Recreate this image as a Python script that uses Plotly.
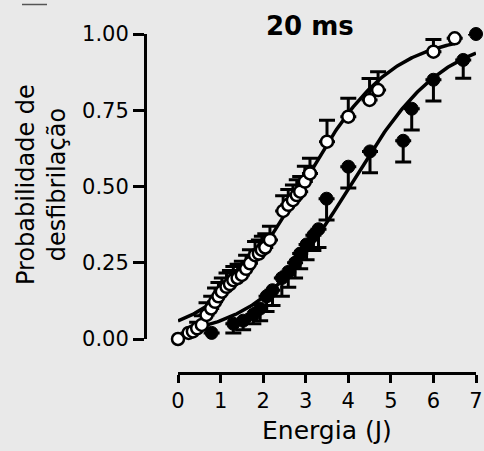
import numpy as np
import plotly.graph_objects as go

# ---- data ----
open_x = [0.00, 0.25, 0.35, 0.45, 0.56, 0.67, 0.78, 0.87, 0.95, 1.03, 1.14, 1.22, 1.30, 1.40, 1.50,
          1.60, 1.69, 1.81, 1.90, 1.97, 2.05, 2.16, 2.47, 2.59, 2.70, 2.79, 2.87, 2.98, 3.10, 3.50,
          4.00, 4.50, 4.70, 6.00, 6.50]
open_y = [0.000, 0.020, 0.025, 0.035, 0.046, 0.079, 0.100, 0.122, 0.140, 0.155, 0.171, 0.180, 0.193,
          0.200, 0.210, 0.230, 0.248, 0.275, 0.280, 0.292, 0.300, 0.325, 0.420, 0.440, 0.455, 0.472,
          0.483, 0.516, 0.543, 0.647, 0.729, 0.784, 0.816, 0.942, 0.986]
open_err = [0.0, 0.0, 0.0, 0.02, 0.03, 0.04, 0.04, 0.045, 0.045, 0.045, 0.045, 0.045, 0.045, 0.045,
            0.045, 0.045, 0.045, 0.045, 0.045, 0.045, 0.045, 0.045, 0.05, 0.05, 0.05, 0.05, 0.05,
            0.05, 0.05, 0.07, 0.06, 0.07, 0.06, 0.04, 0.0]

filled_x = [0.79, 1.30, 1.53, 1.77, 1.93, 2.08, 2.22, 2.44, 2.59, 2.75, 2.87, 3.02, 3.18, 3.30, 3.49,
            4.00, 4.51, 5.29, 5.49, 6.00, 6.70, 7.00]
filled_y = [0.020, 0.050, 0.060, 0.080, 0.100, 0.140, 0.160, 0.200, 0.220, 0.250, 0.280, 0.310, 0.340,
            0.360, 0.460, 0.565, 0.615, 0.650, 0.755, 0.850, 0.915, 1.000]
filled_err = [0.0, 0.03, 0.03, 0.03, 0.04, 0.05, 0.05, 0.06, 0.05, 0.05, 0.05, 0.05, 0.05, 0.06, 0.07,
              0.07, 0.07, 0.07, 0.07, 0.07, 0.06, 0.0]

# fitted sigmoid parameters (midpoint, slope factor, x-range of drawn curve)
open_fit = {"x50": 2.90, "s": 1.05, "xmin": 0.0, "xmax": 6.5}
filled_fit = {"x50": 4.03, "s": 1.10, "xmin": 0.5, "xmax": 7.0}

x_ticks = [0, 1, 2, 3, 4, 5, 6, 7]
y_ticks = [0.0, 0.25, 0.5, 0.75, 1.0]
y_ticklabels = ["0.00", "0.25", "0.50", "0.75", "1.00"]

title_text = "<b>20 ms</b>"
x_title = "Energia (J)"
y_title = "Probabilidade de<br>desfibrilação"


def sigmoid(fit):
    xs = np.linspace(fit["xmin"], fit["xmax"], 200)
    return xs, 1.0 / (1.0 + np.exp(-(xs - fit["x50"]) / fit["s"]))


W, H = 484, 451
FONT = "DejaVu Sans"


def px(x):
    return x / W


def py(y):
    return 1 - y / H


fig = go.Figure()

for fit in (filled_fit, open_fit):
    cx, cy = sigmoid(fit)
    fig.add_trace(go.Scatter(x=cx, y=cy, mode="lines", line=dict(color="black", width=3.5),
                             hoverinfo="skip", showlegend=False))

fig.add_trace(go.Scatter(
    x=filled_x, y=filled_y, mode="markers", cliponaxis=False, showlegend=False,
    marker=dict(size=13, color="black", line=dict(color="black", width=1)),
    error_y=dict(type="data", symmetric=False, array=[0] * len(filled_err), arrayminus=filled_err,
                 color="black", thickness=3, width=8)))

fig.add_trace(go.Scatter(
    x=open_x, y=open_y, mode="markers", cliponaxis=False, showlegend=False,
    marker=dict(size=12, color="white", line=dict(color="black", width=2.5)),
    error_y=dict(type="data", symmetric=False, array=open_err, arrayminus=[0] * len(open_err),
                 color="black", thickness=3, width=8)))

fig.update_layout(
    template="none",
    width=W, height=H, autosize=False,
    margin=dict(l=0, r=0, t=0, b=0, pad=0, autoexpand=False),
    paper_bgcolor="#e9e9e9", plot_bgcolor="#e9e9e9",
    font=dict(family=FONT, color="black"),
    xaxis=dict(domain=[px(178), px(476)], range=[0, 7], anchor="free", position=py(373),
               automargin=False,
               showline=True, linecolor="black", linewidth=3, ticks="outside", ticklen=8,
               tickwidth=3, tickcolor="black", tickvals=x_ticks, showgrid=False, zeroline=False,
               tickfont=dict(size=21, family=FONT, color="black")),
    yaxis=dict(domain=[py(339), py(34)], range=[0, 1], anchor="free", position=px(145),
               automargin=False,
               showline=True, linecolor="black", linewidth=3, ticks="outside", ticklen=11,
               tickwidth=3, tickcolor="black", tickvals=y_ticks, ticktext=y_ticklabels,
               showgrid=False, zeroline=False, tickfont=dict(size=21, family=FONT, color="black")),
    annotations=[
        dict(text=title_text, x=px(310), y=py(26), xref="paper", yref="paper", showarrow=False,
             xanchor="center", yanchor="middle", font=dict(size=26, family=FONT, color="black")),
        dict(text=x_title, x=px(327), y=py(430), xref="paper", yref="paper", showarrow=False,
             xanchor="center", yanchor="middle", font=dict(size=25, family=FONT, color="black")),
        dict(text=y_title, x=px(42), y=py(185), xref="paper", yref="paper", showarrow=False,
             xanchor="center", yanchor="middle", textangle=-90,
             font=dict(size=24, family=FONT, color="black")),
    ],
    shapes=[dict(type="line", xref="paper", yref="paper", x0=px(22), x1=px(47), y0=py(4.5), y1=py(4.5),
                 line=dict(color="#555555", width=1.5))],
)

fig.write_html("out.html", config={"displayModeBar": False},
               post_script="document.body.style.margin='0';document.body.style.overflow='hidden';")
